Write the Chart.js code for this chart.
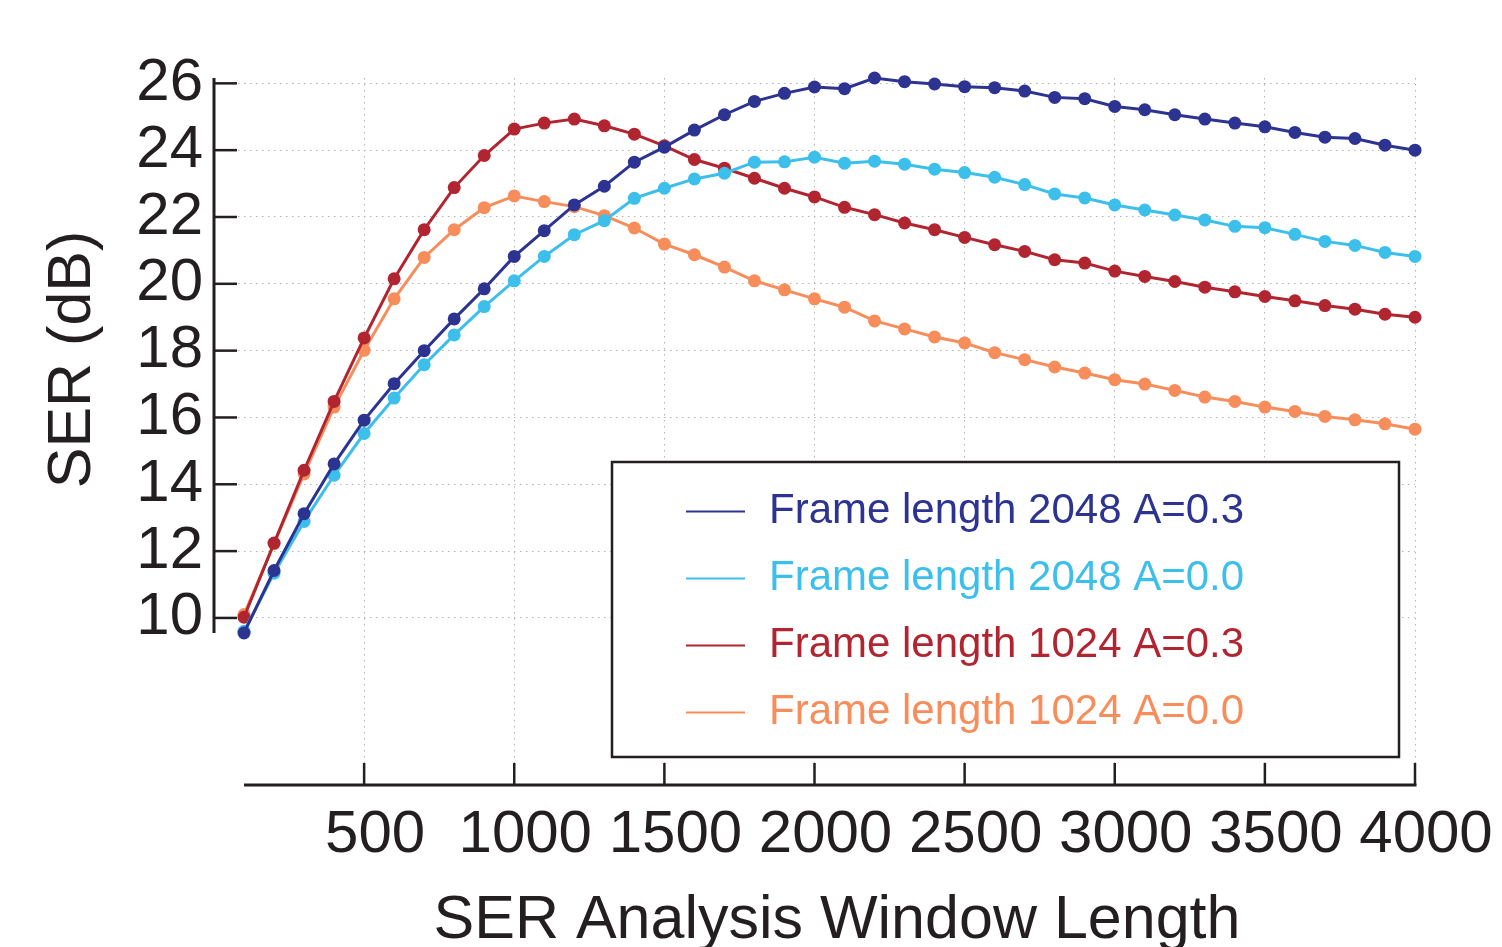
<!DOCTYPE html>
<html>
<head>
<meta charset="utf-8">
<script src="https://cdn.jsdelivr.net/npm/chart.js@4.4.1/dist/chart.umd.min.js"></script>
<style>
html,body{margin:0;padding:0;background:#ffffff;}
canvas{display:block;}
</style>
</head>
<body>
<canvas id="c" width="1502" height="947"></canvas>
<script>
// ---------- data ----------
const windowLengths = [100,200,300,400,500,600,700,800,900,1000,1100,1200,1300,1400,1500,1600,1700,1800,1900,2000,
                       2100,2200,2300,2400,2500,2600,2700,2800,2900,3000,3100,3200,3300,3400,3500,3600,3700,3800,3900,4000];
const seriesLabels = ['Frame length 2048 A=0.3','Frame length 2048 A=0.0','Frame length 1024 A=0.3','Frame length 1024 A=0.0'];
const frame2048A03 = [9.55,11.42,13.12,14.61,15.92,17.01,18.00,18.95,19.85,20.82,21.59,22.36,22.92,23.64,24.09,24.60,25.06,25.46,25.70,25.89,
                      25.84,26.16,26.05,25.98,25.90,25.87,25.77,25.58,25.54,25.31,25.21,25.06,24.93,24.81,24.70,24.53,24.39,24.35,24.15,24.00];
const frame2048A00 = [9.60,11.34,12.89,14.27,15.52,16.58,17.58,18.47,19.32,20.09,20.82,21.47,21.89,22.56,22.86,23.14,23.31,23.64,23.65,23.79,
                      23.61,23.67,23.58,23.43,23.33,23.19,22.97,22.69,22.57,22.36,22.21,22.06,21.91,21.72,21.68,21.48,21.27,21.15,20.94,20.82];
const frame1024A03 = [10.02,12.24,14.42,16.48,18.38,20.15,21.62,22.88,23.84,24.63,24.81,24.93,24.73,24.48,24.13,23.72,23.46,23.16,22.86,22.60,
                      22.29,22.07,21.82,21.62,21.39,21.17,20.97,20.72,20.62,20.38,20.22,20.07,19.90,19.76,19.62,19.49,19.35,19.24,19.09,19.00];
const frame1024A00 = [10.10,12.22,14.31,16.31,18.01,19.55,20.79,21.62,22.28,22.63,22.46,22.31,22.04,21.67,21.19,20.87,20.50,20.09,19.82,19.55,
                      19.30,18.89,18.65,18.41,18.23,17.94,17.73,17.51,17.33,17.13,17.00,16.81,16.61,16.48,16.31,16.18,16.03,15.93,15.81,15.65];
const xTickValues = [500,1000,1500,2000,2500,3000,3500,4000];
const yTickValues = [10,12,14,16,18,20,22,24,26];
const xAxisTitle = 'SER Analysis Window Length';
const yAxisTitle = 'SER (dB)';

// ---------- style ----------
const seriesColors = ['#2C3391','#3CBFEB','#B12531','#F68D5B'];
const inkColor = '#231F20';
const gridColor = '#b3b3b3';
const FONT = '"Liberation Sans", Arial, Helvetica, sans-serif';

const seriesValues = [frame2048A03, frame2048A00, frame1024A03, frame1024A00];
const allValues = [].concat(...seriesValues);
const dataYMin = Math.min(...allValues);
const dataYMax = Math.max(...allValues);

const datasets = seriesValues.map((vals, i) => ({
  label: seriesLabels[i],
  data: windowLengths.map((w, j) => ({x: w, y: vals[j]})),
  borderColor: seriesColors[i],
  backgroundColor: seriesColors[i],
  pointBackgroundColor: seriesColors[i],
  pointBorderColor: seriesColors[i],
  borderWidth: 3,
  pointRadius: 6.5,
  pointBorderWidth: 0,
  tension: 0,
  fill: false,
  clip: false
}));

// range-frame axes (lines span the data range), inward tick marks
const rangeFrame = {
  id: 'rangeFrame',
  afterDatasetsDraw(chart) {
    const {ctx, chartArea, scales: {x, y}} = chart;
    ctx.save();
    ctx.strokeStyle = inkColor;
    ctx.lineCap = 'butt';
    // y axis
    const ax = chartArea.left;
    ctx.lineWidth = 3;
    ctx.beginPath();
    ctx.moveTo(ax, y.getPixelForValue(dataYMin));
    ctx.lineTo(ax, y.getPixelForValue(dataYMax));
    ctx.stroke();
    ctx.lineWidth = 2.5;
    yTickValues.forEach(v => {
      const py = y.getPixelForValue(v);
      ctx.beginPath(); ctx.moveTo(ax, py); ctx.lineTo(ax + 23, py); ctx.stroke();
    });
    // x axis
    const ay = chartArea.bottom;
    ctx.lineWidth = 3;
    ctx.beginPath();
    ctx.moveTo(x.getPixelForValue(windowLengths[0]), ay);
    ctx.lineTo(x.getPixelForValue(windowLengths[windowLengths.length - 1]) + 1.5, ay);
    ctx.stroke();
    ctx.lineWidth = 2.5;
    xTickValues.forEach(v => {
      const px = x.getPixelForValue(v);
      ctx.beginPath(); ctx.moveTo(px, ay); ctx.lineTo(px, ay - 22); ctx.stroke();
    });
    ctx.restore();
  }
};

// axis titles
const axisTitles = {
  id: 'axisTitles',
  afterDraw(chart) {
    const {ctx} = chart;
    ctx.save();
    ctx.fillStyle = inkColor;
    ctx.font = '61px ' + FONT;
    ctx.textAlign = 'center';
    ctx.textBaseline = 'alphabetic';
    ctx.fillText(xAxisTitle, 837, 938);
    ctx.translate(90, 359.5);
    ctx.rotate(-Math.PI / 2);
    ctx.font = '61px ' + FONT;
    ctx.fillText(yAxisTitle, 0, 0);
    ctx.restore();
  }
};

// boxed legend inside the plot
const boxedLegend = {
  id: 'boxedLegend',
  afterDraw(chart) {
    const {ctx} = chart;
    const box = {l: 612, t: 462, r: 1399, b: 757};
    ctx.save();
    ctx.fillStyle = '#ffffff';
    ctx.fillRect(box.l, box.t, box.r - box.l, box.b - box.t);
    ctx.strokeStyle = inkColor;
    ctx.lineWidth = 2.5;
    ctx.strokeRect(box.l, box.t, box.r - box.l, box.b - box.t);
    ctx.font = '42px ' + FONT;
    ctx.textAlign = 'left';
    ctx.textBaseline = 'alphabetic';
    chart.data.datasets.forEach((ds, i) => {
      const base = 523 + i * 67;
      const ly = 511.5 + i * 67;
      ctx.strokeStyle = ds.borderColor;
      ctx.lineWidth = 2;
      ctx.beginPath(); ctx.moveTo(686, ly); ctx.lineTo(745, ly); ctx.stroke();
      ctx.fillStyle = ds.borderColor;
      ctx.fillText(ds.label, 769, base);
    });
    ctx.restore();
  }
};

new Chart(document.getElementById('c'), {
  type: 'line',
  data: {datasets},
  options: {
    responsive: false,
    devicePixelRatio: 1,
    animation: false,
    layout: {padding: {top: 78, right: 87, left: 0, bottom: 0}},
    plugins: {legend: {display: false}, tooltip: {enabled: false}},
    scales: {
      x: {
        type: 'linear',
        min: 0,
        max: 4000,
        afterBuildTicks: s => { s.ticks = xTickValues.map(v => ({value: v})); },
        afterFit: s => { s.height = 162; s.paddingRight = 0; s.paddingLeft = 0; },
        grid: {color: gridColor, lineWidth: 1, drawTicks: false},
        border: {display: false, dash: [1.5, 4.5]},
        ticks: {
          color: inkColor,
          font: {family: FONT, size: 60},
          padding: 14,
          labelOffset: 11,
          maxRotation: 0,
          autoSkip: false,
          callback: v => String(v)
        }
      },
      y: {
        type: 'linear',
        min: 5,
        max: dataYMax,
        afterBuildTicks: s => { s.ticks = yTickValues.map(v => ({value: v})); },
        afterFit: s => { s.width = 214; s.paddingTop = 0; s.paddingBottom = 0; },
        grid: {color: gridColor, lineWidth: 1, drawTicks: false},
        border: {display: false, dash: [1.5, 4.5]},
        ticks: {
          color: inkColor,
          font: {family: FONT, size: 60},
          padding: 11,
          autoSkip: false,
          callback: v => String(v)
        }
      }
    }
  },
  plugins: [rangeFrame, axisTitles, boxedLegend]
});
</script>
</body>
</html>
